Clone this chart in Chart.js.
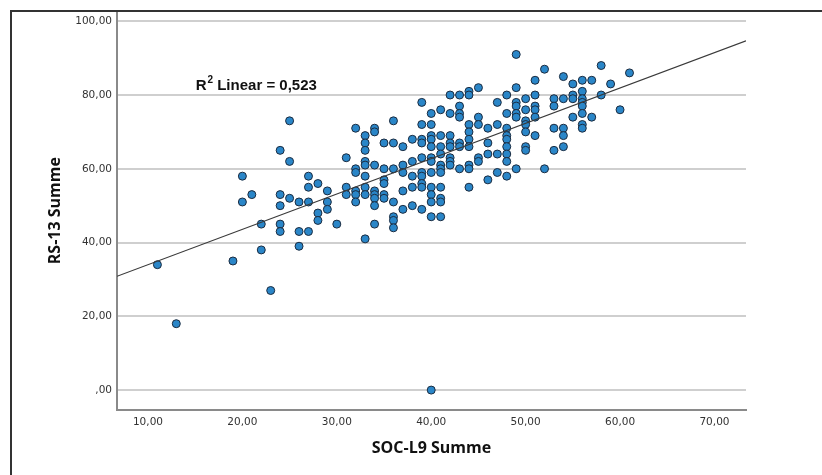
<!DOCTYPE html>
<html>
<head>
<meta charset="utf-8">
<script src="https://cdn.jsdelivr.net/npm/chart.js@4.4.1/dist/chart.umd.min.js"></script>
<style>
  html, body { margin: 0; padding: 0; background: #fff; }
  #wrap { position: relative; width: 822px; height: 475px; overflow: hidden; }
  #frame { position: absolute; left: 10px; top: 10px; width: 830px; height: 480px;
           border-top: 2px solid #333; border-left: 2px solid #333; pointer-events: none; }
</style>
</head>
<body>
<div id="wrap">
  <canvas id="scatterChart" width="822" height="475"></canvas>
  <div id="frame"></div>
</div>
<script>
// SOC-L9 sum values (x) and the RS-13 sums observed at each of them (y)
const socValues = [11, 13, 19, 20, 21, 22, 23, 24, 25, 26, 27, 28, 29, 30, 31, 32, 33, 34, 35, 36,
                   37, 38, 39, 40, 41, 42, 43, 44, 45, 46, 47, 48, 49, 50, 51, 52, 53, 54, 55, 56,
                   57, 58, 59, 60, 61];
const rsValues = [
  [34], [18], [35], [58, 51], [53], [45, 38], [27],
  [65, 53, 50, 45, 43],
  [73, 62, 52],
  [51, 43, 39],
  [58, 55, 51, 43],
  [56, 48, 46],
  [54, 51, 49],
  [45],
  [63, 55, 53],
  [71, 60, 59, 54, 53, 51],
  [69, 67, 65, 62, 61, 58, 55, 53, 41],
  [71, 70, 61, 54, 53, 52, 50, 45],
  [67, 60, 57, 56, 53, 52],
  [73, 67, 60, 51, 47, 46, 44],
  [66, 61, 59, 54, 49],
  [68, 62, 58, 55, 50],
  [78, 72, 68, 67, 63, 59, 58, 56, 55, 49],
  [75, 72, 69, 68, 66, 63, 62, 59, 55, 53, 51, 47, 0],
  [76, 69, 66, 64, 61, 60, 59, 55, 52, 51, 47],
  [80, 75, 69, 67, 66, 63, 62, 61],
  [80, 77, 75, 74, 67, 66, 60],
  [81, 80, 72, 70, 68, 66, 61, 60, 55],
  [82, 74, 72, 63, 62],
  [71, 67, 64, 57],
  [78, 72, 64, 59],
  [80, 75, 71, 69, 68, 66, 64, 62, 58],
  [91, 82, 78, 77, 75, 74, 60],
  [79, 76, 73, 72, 70, 66, 65],
  [84, 80, 77, 76, 74, 69],
  [87, 60],
  [79, 77, 71, 65],
  [85, 79, 71, 69, 66],
  [83, 80, 79, 74],
  [84, 81, 79, 78, 77, 75, 72, 71],
  [84, 74],
  [88, 80],
  [83],
  [76],
  [86]
];
const xTickValues = [10, 20, 30, 40, 50, 60, 70];
const yTickValues = [0, 20, 40, 60, 80, 100];
const xRange = [6.72, 73.34];
const yRange = [-5.4, 102.7];
const rSquaredText = '0,523';

const points = [];
socValues.forEach((x, i) => {
    rsValues[i].forEach(y => points.push({ x: x, y: y }));
});

// least squares fit line, as SPSS draws it across the whole x range
function linearFit(pts) {
    const n = pts.length;
    let sx = 0, sy = 0, sxx = 0, sxy = 0;
    pts.forEach(p => { sx += p.x; sy += p.y; sxx += p.x * p.x; sxy += p.x * p.y; });
    const slope = (n * sxy - sx * sy) / (n * sxx - sx * sx);
    const intercept = (sy - slope * sx) / n;
    return { slope: slope, intercept: intercept };
}
const fit = linearFit(points);
const fitLine = xRange.map(x => ({ x: x, y: fit.intercept + fit.slope * x }));

function commaFormat(v) {
    if (v === 0) return ',00';
    return v.toFixed(2).replace('.', ',');
}

const rSquaredLabel = {
    id: 'rSquaredLabel',
    afterDraw(chart) {
        const ctx = chart.ctx;
        const xs = chart.scales.x, ys = chart.scales.y;
        const left = xs.getPixelForValue(15.05);
        const base = ys.getPixelForValue(81.3);
        ctx.save();
        ctx.fillStyle = '#111';
        ctx.textBaseline = 'alphabetic';
        ctx.font = 'bold 15px "Liberation Sans Narrow", "Liberation Sans", Arial, sans-serif';
        ctx.fillText('R', left, base);
        let w = ctx.measureText('R').width;
        ctx.font = 'bold 10px "Liberation Sans Narrow", "Liberation Sans", Arial, sans-serif';
        ctx.fillText('2', left + w + 1, base - 7);
        w += ctx.measureText('2').width + 1;
        ctx.font = 'bold 15px "Liberation Sans Narrow", "Liberation Sans", Arial, sans-serif';
        ctx.fillText(' Linear = ' + rSquaredText, left + w, base);
        ctx.restore();
    }
};

const ctx = document.getElementById('scatterChart').getContext('2d');
new Chart(ctx, {
    type: 'scatter',
    data: {
        datasets: [{
            type: 'line',
            label: 'Fit',
            data: fitLine,
            borderColor: '#3a3a3a',
            borderWidth: 1.2,
            pointRadius: 0,
            fill: false,
            tension: 0
        }, {
            label: 'RS-13 vs SOC-L9',
            data: points,
            backgroundColor: '#2a86c8',
            borderColor: '#1b2b3f',
            borderWidth: 1,
            pointRadius: 4,
            pointHoverRadius: 4
        }]
    },
    options: {
        responsive: false,
        animation: false,
        devicePixelRatio: 1,
        layout: { padding: { top: 10, right: 76, left: 0, bottom: 0 } },
        plugins: {
            legend: { display: false },
            tooltip: { enabled: false }
        },
        scales: {
            x: {
                type: 'linear',
                min: xRange[0],
                max: xRange[1],
                afterBuildTicks: scale => { scale.ticks = xTickValues.map(v => ({ value: v })); },
                afterFit: scale => { scale.height = 65; },
                grid: { display: false, drawTicks: false },
                border: { display: true, color: '#8a8a8a', width: 2 },
                ticks: {
                    padding: 6,
                    color: '#333',
                    font: { family: 'DejaVu Sans', size: 10.5 },
                    callback: v => commaFormat(v)
                },
                title: {
                    display: true,
                    text: 'SOC-L9 Summe',
                    color: '#111',
                    font: { family: 'Open Sans', size: 16, weight: 'bold' },
                    padding: { top: 0, bottom: 17 }
                }
            },
            y: {
                type: 'linear',
                min: yRange[0],
                max: yRange[1],
                afterBuildTicks: scale => { scale.ticks = yTickValues.map(v => ({ value: v })); },
                afterFit: scale => { scale.width = 117; },
                grid: { color: '#cfcfcf', lineWidth: 2, drawTicks: false },
                border: { display: true, color: '#8a8a8a', width: 2 },
                ticks: {
                    padding: 5,
                    color: '#333',
                    font: { family: 'DejaVu Sans', size: 10.5 },
                    callback: v => commaFormat(v)
                },
                title: {
                    display: true,
                    text: 'RS-13 Summe',
                    color: '#111',
                    font: { family: 'Open Sans', size: 16, weight: 'bold' },
                    padding: { top: 46, bottom: 0 }
                }
            }
        }
    },
    plugins: [rSquaredLabel]
});
</script>
</body>
</html>
